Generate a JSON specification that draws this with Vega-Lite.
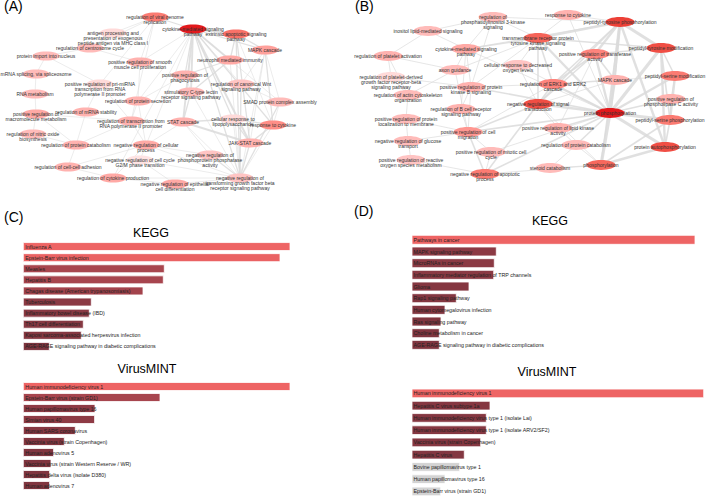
{
  "$schema": "https://vega.github.io/schema/vega-lite/v6.json",
  "background": "white",
  "padding": 0,
  "config": {"view": {"stroke": null}, "font": "Liberation Sans", "title": {"fontWeight": "normal", "color": "#000000", "font": "Liberation Sans"}},
  "datasets": {
    "nodesA": [
      {"id": "a1", "label": "regulation of viral genome\nreplication", "x": 152, "y": 10, "shade": 0.6},
      {"id": "a2", "label": "cytokine-mediated signaling\npathway", "x": 190, "y": 22, "shade": 1.0},
      {"id": "a3", "label": "antigen processing and\npresentation of exogenous\npeptide antigen via MHC class I", "x": 110, "y": 26, "shade": 0.08},
      {"id": "a4", "label": "extrinsic apoptotic signaling\npathway", "x": 233, "y": 27, "shade": 0.65},
      {"id": "a5", "label": "regulation of centrosome cycle", "x": 87, "y": 41, "shade": 0.25},
      {"id": "a6", "label": "protein import into nucleus", "x": 43, "y": 49, "shade": 0.25},
      {"id": "a7", "label": "MAPK cascade", "x": 262, "y": 43, "shade": 0.4},
      {"id": "a8", "label": "neutrophil mediated immunity", "x": 227, "y": 53, "shade": 0.35},
      {"id": "a9", "label": "positive regulation of smooth\nmuscle cell proliferation", "x": 137, "y": 55, "shade": 0.3},
      {"id": "a10", "label": "positive regulation of\nphagocytosis", "x": 182, "y": 68, "shade": 0.3},
      {"id": "a11", "label": "mRNA splicing, via spliceosome", "x": 33, "y": 67, "shade": 0.25},
      {"id": "a12", "label": "positive regulation of pri-miRNA\ntranscription from RNA\npolymerase II promoter", "x": 97, "y": 77, "shade": 0.08},
      {"id": "a13", "label": "regulation of canonical Wnt\nsignaling pathway", "x": 238, "y": 77, "shade": 0.2},
      {"id": "a14", "label": "stimulatory C-type lectin\nreceptor signaling pathway", "x": 188, "y": 85, "shade": 0.25},
      {"id": "a15", "label": "RNA metabolism", "x": 32, "y": 87, "shade": 0.25},
      {"id": "a16", "label": "SMAD protein complex assembly", "x": 277, "y": 95, "shade": 0.25},
      {"id": "a17", "label": "regulation of protein secretion", "x": 135, "y": 94, "shade": 0.3},
      {"id": "a18", "label": "positive regulation of\nmacromolecule metabolism", "x": 33, "y": 107, "shade": 0.35},
      {"id": "a19", "label": "regulation of mRNA stability", "x": 83, "y": 105, "shade": 0.3},
      {"id": "a20", "label": "regulation of transcription from\nRNA polymerase II promoter", "x": 128, "y": 114, "shade": 0.3},
      {"id": "a21", "label": "STAT cascade", "x": 180, "y": 115, "shade": 0.3},
      {"id": "a22", "label": "cellular response to\nlipopolysaccharide", "x": 230, "y": 112, "shade": 0.08},
      {"id": "a23", "label": "response to cytokine", "x": 270, "y": 118, "shade": 0.5},
      {"id": "a24", "label": "regulation of nitric oxide\nbiosynthesis", "x": 30, "y": 127, "shade": 0.25},
      {"id": "a25", "label": "regulation of protein catabolism", "x": 73, "y": 138, "shade": 0.3},
      {"id": "a26", "label": "negative regulation of cellular\nprocess", "x": 143, "y": 138, "shade": 0.35},
      {"id": "a27", "label": "JAK-STAT cascade", "x": 247, "y": 136, "shade": 0.3},
      {"id": "a28", "label": "negative regulation of\nphosphoprotein phosphatase\nactivity", "x": 207, "y": 148, "shade": 0.2},
      {"id": "a29", "label": "negative regulation of cell cycle\nG2/M phase transition", "x": 137, "y": 153, "shade": 0.03},
      {"id": "a30", "label": "regulation of cell-cell adhesion", "x": 65, "y": 160, "shade": 0.3},
      {"id": "a31", "label": "regulation of cytokine production", "x": 110, "y": 171, "shade": 0.35},
      {"id": "a32", "label": "negative regulation of epithelial\ncell differentiation", "x": 172, "y": 177, "shade": 0.35},
      {"id": "a33", "label": "negative regulation of\ntransforming growth factor beta\nreceptor signaling pathway", "x": 237, "y": 171, "shade": 0.2}
    ],
    "edgesA": [
      {"s": "a2", "t": "a1", "w": 2}, {"s": "a2", "t": "a4", "w": 3}, {"s": "a2", "t": "a7", "w": 2}, {"s": "a2", "t": "a8", "w": 3},
      {"s": "a2", "t": "a10", "w": 2}, {"s": "a2", "t": "a14", "w": 3}, {"s": "a2", "t": "a21", "w": 3}, {"s": "a2", "t": "a22", "w": 2},
      {"s": "a2", "t": "a23", "w": 2}, {"s": "a2", "t": "a27", "w": 3}, {"s": "a2", "t": "a13", "w": 1}, {"s": "a2", "t": "a16", "w": 1},
      {"s": "a2", "t": "a26", "w": 1}, {"s": "a2", "t": "a33", "w": 2}, {"s": "a2", "t": "a31", "w": 1}, {"s": "a2", "t": "a9", "w": 1},
      {"s": "a2", "t": "a17", "w": 1}, {"s": "a1", "t": "a3", "w": 1}, {"s": "a1", "t": "a9", "w": 1}, {"s": "a1", "t": "a20", "w": 1},
      {"s": "a1", "t": "a12", "w": 1}, {"s": "a1", "t": "a5", "w": 1}, {"s": "a4", "t": "a8", "w": 2}, {"s": "a4", "t": "a7", "w": 2},
      {"s": "a4", "t": "a27", "w": 2}, {"s": "a4", "t": "a33", "w": 2}, {"s": "a4", "t": "a23", "w": 1}, {"s": "a7", "t": "a16", "w": 1},
      {"s": "a7", "t": "a23", "w": 2}, {"s": "a7", "t": "a27", "w": 1}, {"s": "a7", "t": "a33", "w": 1}, {"s": "a7", "t": "a13", "w": 1},
      {"s": "a8", "t": "a10", "w": 2}, {"s": "a8", "t": "a14", "w": 2}, {"s": "a8", "t": "a33", "w": 1}, {"s": "a13", "t": "a16", "w": 1},
      {"s": "a13", "t": "a33", "w": 2}, {"s": "a16", "t": "a33", "w": 2}, {"s": "a16", "t": "a23", "w": 1}, {"s": "a21", "t": "a27", "w": 3},
      {"s": "a21", "t": "a22", "w": 2}, {"s": "a21", "t": "a33", "w": 1}, {"s": "a21", "t": "a14", "w": 2}, {"s": "a21", "t": "a26", "w": 1},
      {"s": "a21", "t": "a28", "w": 1}, {"s": "a22", "t": "a23", "w": 2}, {"s": "a22", "t": "a33", "w": 1}, {"s": "a22", "t": "a27", "w": 2},
      {"s": "a23", "t": "a27", "w": 2}, {"s": "a23", "t": "a33", "w": 1}, {"s": "a27", "t": "a33", "w": 2}, {"s": "a28", "t": "a33", "w": 2},
      {"s": "a28", "t": "a26", "w": 1}, {"s": "a32", "t": "a33", "w": 1}, {"s": "a29", "t": "a32", "w": 1}, {"s": "a29", "t": "a33", "w": 1},
      {"s": "a31", "t": "a32", "w": 1}, {"s": "a31", "t": "a26", "w": 1}, {"s": "a26", "t": "a30", "w": 1}, {"s": "a26", "t": "a20", "w": 1},
      {"s": "a26", "t": "a17", "w": 1}, {"s": "a26", "t": "a29", "w": 1}, {"s": "a20", "t": "a25", "w": 1}, {"s": "a20", "t": "a17", "w": 1},
      {"s": "a19", "t": "a25", "w": 1}, {"s": "a12", "t": "a19", "w": 1}, {"s": "a12", "t": "a20", "w": 1}, {"s": "a18", "t": "a20", "w": 1},
      {"s": "a18", "t": "a25", "w": 1}, {"s": "a24", "t": "a25", "w": 1}, {"s": "a6", "t": "a11", "w": 1}, {"s": "a11", "t": "a15", "w": 1},
      {"s": "a15", "t": "a18", "w": 1}, {"s": "a18", "t": "a24", "w": 1}, {"s": "a5", "t": "a9", "w": 1}, {"s": "a5", "t": "a6", "w": 1},
      {"s": "a6", "t": "a12", "w": 1}, {"s": "a30", "t": "a31", "w": 1}, {"s": "a25", "t": "a30", "w": 1}, {"s": "a10", "t": "a14", "w": 1},
      {"s": "a10", "t": "a17", "w": 1}, {"s": "a14", "t": "a33", "w": 1}, {"s": "a9", "t": "a17", "w": 1}, {"s": "a3", "t": "a5", "w": 1},
      {"s": "a31", "t": "a33", "w": 1}, {"s": "a26", "t": "a33", "w": 1}
    ],
    "nodesB": [
      {"id": "b1", "label": "regulation of\nphosphatidylinositol 3-kinase\nsignaling", "x": 139, "y": 10, "shade": 0.25},
      {"id": "b2", "label": "inositol lipid-mediated signaling", "x": 74, "y": 24, "shade": 0.25},
      {"id": "b3", "label": "transmembrane receptor protein\ntyrosine kinase signaling\npathway", "x": 184, "y": 31, "shade": 0.72},
      {"id": "b4", "label": "response to cytokine", "x": 214, "y": 8, "shade": 0.3},
      {"id": "b5", "label": "peptidyl-tyrosine phosphorylation", "x": 266, "y": 15, "shade": 0.88},
      {"id": "b6", "label": "regulation of platelet activation", "x": 34, "y": 49, "shade": 0.3},
      {"id": "b7", "label": "cytokine-mediated signaling\npathway", "x": 112, "y": 42, "shade": 0.35},
      {"id": "b8", "label": "positive regulation of transferase\nactivity", "x": 241, "y": 47, "shade": 0.55},
      {"id": "b9", "label": "peptidyl-tyrosine modification", "x": 307, "y": 41, "shade": 0.82},
      {"id": "b10", "label": "cellular response to decreased\noxygen levels", "x": 164, "y": 58, "shade": 0.2},
      {"id": "b11", "label": "axon guidance", "x": 101, "y": 63, "shade": 0.25},
      {"id": "b12", "label": "regulation of platelet-derived\ngrowth factor receptor-beta\nsignaling pathway", "x": 37, "y": 70, "shade": 0.08},
      {"id": "b13", "label": "regulation of ERK1 and ERK2\ncascade", "x": 199, "y": 77, "shade": 0.55},
      {"id": "b14", "label": "MAPK cascade", "x": 261, "y": 73, "shade": 0.3},
      {"id": "b15", "label": "peptidyl-serine modification", "x": 321, "y": 69, "shade": 0.6},
      {"id": "b16", "label": "positive regulation of protein\nkinase B signaling", "x": 117, "y": 80, "shade": 0.3},
      {"id": "b17", "label": "regulation of actin cytoskeleton\norganization", "x": 54, "y": 88, "shade": 0.25},
      {"id": "b18", "label": "negative regulation of signal\ntransduction", "x": 184, "y": 97, "shade": 0.82},
      {"id": "b19", "label": "positive regulation of\nphospholipase C activity", "x": 317, "y": 92, "shade": 0.3},
      {"id": "b20", "label": "regulation of B cell receptor\nsignaling pathway", "x": 107, "y": 102, "shade": 0.3},
      {"id": "b21", "label": "positive regulation of protein\nlocalization to membrane", "x": 52, "y": 112, "shade": 0.25},
      {"id": "b22", "label": "protein phosphorylation", "x": 256, "y": 106, "shade": 1.0},
      {"id": "b23", "label": "peptidyl-serine phosphorylation", "x": 316, "y": 113, "shade": 0.6},
      {"id": "b24", "label": "positive regulation of cell\nmigration", "x": 114, "y": 125, "shade": 0.45},
      {"id": "b25", "label": "positive regulation of lipid kinase\nactivity", "x": 204, "y": 121, "shade": 0.3},
      {"id": "b26", "label": "negative regulation of glucose\ntransport", "x": 54, "y": 134, "shade": 0.25},
      {"id": "b27", "label": "positive regulation of mitotic cell\ncycle", "x": 137, "y": 145, "shade": 0.25},
      {"id": "b28", "label": "regulation of protein catabolism", "x": 222, "y": 138, "shade": 0.25},
      {"id": "b29", "label": "protein autophosphorylation", "x": 311, "y": 140, "shade": 0.82},
      {"id": "b30", "label": "positive regulation of reactive\noxygen species metabolism", "x": 57, "y": 153, "shade": 0.2},
      {"id": "b31", "label": "steroid catabolism", "x": 196, "y": 161, "shade": 0.25},
      {"id": "b32", "label": "phosphorylation", "x": 247, "y": 158, "shade": 0.7},
      {"id": "b33", "label": "negative regulation of apoptotic\nprocess", "x": 131, "y": 167, "shade": 0.6}
    ],
    "edgesB": [
      {"s": "b22", "t": "b5", "w": 4}, {"s": "b22", "t": "b9", "w": 4}, {"s": "b22", "t": "b8", "w": 3}, {"s": "b22", "t": "b14", "w": 3},
      {"s": "b22", "t": "b13", "w": 3}, {"s": "b22", "t": "b18", "w": 3}, {"s": "b22", "t": "b23", "w": 4}, {"s": "b22", "t": "b29", "w": 4},
      {"s": "b22", "t": "b32", "w": 4}, {"s": "b22", "t": "b15", "w": 3}, {"s": "b22", "t": "b19", "w": 2}, {"s": "b22", "t": "b25", "w": 2},
      {"s": "b22", "t": "b28", "w": 2}, {"s": "b22", "t": "b24", "w": 2}, {"s": "b22", "t": "b33", "w": 2}, {"s": "b22", "t": "b3", "w": 3},
      {"s": "b22", "t": "b16", "w": 2}, {"s": "b22", "t": "b10", "w": 1}, {"s": "b22", "t": "b27", "w": 1}, {"s": "b22", "t": "b7", "w": 1},
      {"s": "b22", "t": "b4", "w": 1}, {"s": "b5", "t": "b9", "w": 4}, {"s": "b5", "t": "b3", "w": 3}, {"s": "b5", "t": "b8", "w": 3},
      {"s": "b5", "t": "b14", "w": 2}, {"s": "b5", "t": "b13", "w": 2}, {"s": "b5", "t": "b29", "w": 3}, {"s": "b5", "t": "b4", "w": 1},
      {"s": "b5", "t": "b18", "w": 2}, {"s": "b5", "t": "b7", "w": 1}, {"s": "b5", "t": "b1", "w": 1}, {"s": "b5", "t": "b32", "w": 2},
      {"s": "b9", "t": "b29", "w": 3}, {"s": "b9", "t": "b15", "w": 2}, {"s": "b9", "t": "b8", "w": 2}, {"s": "b9", "t": "b23", "w": 2},
      {"s": "b9", "t": "b3", "w": 2}, {"s": "b15", "t": "b23", "w": 3}, {"s": "b15", "t": "b19", "w": 1}, {"s": "b15", "t": "b14", "w": 1},
      {"s": "b23", "t": "b29", "w": 2}, {"s": "b23", "t": "b19", "w": 1}, {"s": "b23", "t": "b32", "w": 2}, {"s": "b29", "t": "b32", "w": 3},
      {"s": "b8", "t": "b13", "w": 2}, {"s": "b8", "t": "b14", "w": 2}, {"s": "b8", "t": "b18", "w": 2}, {"s": "b8", "t": "b25", "w": 1},
      {"s": "b13", "t": "b14", "w": 2}, {"s": "b13", "t": "b18", "w": 2}, {"s": "b13", "t": "b3", "w": 2}, {"s": "b13", "t": "b16", "w": 1},
      {"s": "b13", "t": "b24", "w": 1}, {"s": "b14", "t": "b18", "w": 1}, {"s": "b18", "t": "b33", "w": 2}, {"s": "b18", "t": "b24", "w": 2},
      {"s": "b18", "t": "b10", "w": 1}, {"s": "b18", "t": "b3", "w": 2}, {"s": "b18", "t": "b25", "w": 1}, {"s": "b18", "t": "b32", "w": 1},
      {"s": "b3", "t": "b7", "w": 2}, {"s": "b3", "t": "b1", "w": 1}, {"s": "b3", "t": "b16", "w": 1}, {"s": "b3", "t": "b11", "w": 1},
      {"s": "b3", "t": "b10", "w": 1}, {"s": "b1", "t": "b2", "w": 1}, {"s": "b1", "t": "b16", "w": 1}, {"s": "b1", "t": "b7", "w": 1},
      {"s": "b2", "t": "b6", "w": 1}, {"s": "b2", "t": "b7", "w": 1}, {"s": "b6", "t": "b12", "w": 1}, {"s": "b6", "t": "b17", "w": 1},
      {"s": "b12", "t": "b17", "w": 1}, {"s": "b12", "t": "b16", "w": 1}, {"s": "b17", "t": "b21", "w": 1}, {"s": "b21", "t": "b26", "w": 1},
      {"s": "b26", "t": "b30", "w": 1}, {"s": "b30", "t": "b33", "w": 1}, {"s": "b24", "t": "b33", "w": 2}, {"s": "b27", "t": "b33", "w": 1},
      {"s": "b24", "t": "b16", "w": 1}, {"s": "b20", "t": "b16", "w": 1}, {"s": "b20", "t": "b7", "w": 1}, {"s": "b11", "t": "b7", "w": 1},
      {"s": "b11", "t": "b24", "w": 1}, {"s": "b11", "t": "b17", "w": 1}, {"s": "b24", "t": "b27", "w": 1}, {"s": "b31", "t": "b28", "w": 1},
      {"s": "b31", "t": "b32", "w": 1}, {"s": "b28", "t": "b32", "w": 1}, {"s": "b32", "t": "b33", "w": 1}, {"s": "b25", "t": "b28", "w": 1},
      {"s": "b16", "t": "b7", "w": 1}, {"s": "b20", "t": "b24", "w": 1}, {"s": "b21", "t": "b24", "w": 1}, {"s": "b6", "t": "b11", "w": 1},
      {"s": "b4", "t": "b3", "w": 1}, {"s": "b26", "t": "b24", "w": 1}
    ],
    "keggC": [
      {"term": "Influenza A", "score": 266.7, "shade": 1.0, "significant": true},
      {"term": "Epstein-Barr virus infection", "score": 256.7, "shade": 0.97, "significant": true},
      {"term": "Measles", "score": 141, "shade": 0.41, "significant": true},
      {"term": "Hepatitis B", "score": 140, "shade": 0.4, "significant": true},
      {"term": "Chagas disease (American trypanosomiasis)", "score": 119.7, "shade": 0.36, "significant": true},
      {"term": "Tuberculosis", "score": 68, "shade": 0.15, "significant": true},
      {"term": "Inflammatory bowel disease (IBD)", "score": 66, "shade": 0.13, "significant": true},
      {"term": "Th17 cell differentiation", "score": 60, "shade": 0.11, "significant": true},
      {"term": "Kaposi sarcoma-associated herpesvirus infection", "score": 58, "shade": 0.1, "significant": true},
      {"term": "AGE-RAGE signaling pathway in diabetic complications", "score": 26, "shade": 0.02, "significant": true}
    ],
    "virusC": [
      {"term": "Human immunodeficiency virus 1", "score": 266.7, "shade": 1.0, "significant": true},
      {"term": "Epstein-Barr virus (strain GD1)", "score": 136.7, "shade": 0.4, "significant": true},
      {"term": "Human papillomavirus type 16", "score": 71.7, "shade": 0.18, "significant": true},
      {"term": "Simian virus 40", "score": 71.3, "shade": 0.18, "significant": true},
      {"term": "Human SARS coronavirus", "score": 52, "shade": 0.12, "significant": true},
      {"term": "Vaccinia virus (strain Copenhagen)", "score": 41, "shade": 0.1, "significant": true},
      {"term": "Human adenovirus 5", "score": 30.3, "shade": 0.06, "significant": true},
      {"term": "Vaccinia virus (strain Western Reserve / WR)", "score": 27.7, "shade": 0.05, "significant": true},
      {"term": "Hepatitis delta virus (isolate D380)", "score": 26.3, "shade": 0.05, "significant": true},
      {"term": "Human adenovirus 7", "score": 26.3, "shade": 0.05, "significant": true}
    ],
    "keggD": [
      {"term": "Pathways in cancer", "score": 283, "shade": 1.0, "significant": true},
      {"term": "MAPK signaling pathway", "score": 84.3, "shade": 0.16, "significant": true},
      {"term": "MicroRNAs in cancer", "score": 82.3, "shade": 0.15, "significant": true},
      {"term": "Inflammatory mediator regulation of TRP channels", "score": 81.7, "shade": 0.14, "significant": true},
      {"term": "Glioma", "score": 57, "shade": 0.1, "significant": true},
      {"term": "Rap1 signaling pathway", "score": 44.3, "shade": 0.08, "significant": true},
      {"term": "Human cytomegalovirus infection", "score": 33, "shade": 0.06, "significant": true},
      {"term": "Ras signaling pathway", "score": 29, "shade": 0.05, "significant": true},
      {"term": "Choline metabolism in cancer", "score": 27.3, "shade": 0.05, "significant": true},
      {"term": "AGE-RAGE signaling pathway in diabetic complications", "score": 27.3, "shade": 0.05, "significant": true}
    ],
    "virusD": [
      {"term": "Human immunodeficiency virus 1", "score": 291.7, "shade": 1.0, "significant": true},
      {"term": "Hepatitis C virus subtype 1a", "score": 78, "shade": 0.1, "significant": true},
      {"term": "Human immunodeficiency virus type 1 (isolate Lai)", "score": 74.3, "shade": 0.1, "significant": true},
      {"term": "Human immunodeficiency virus type 1 (isolate ARV2/SF2)", "score": 74.3, "shade": 0.1, "significant": true},
      {"term": "Vaccinia virus (strain Copenhagen)", "score": 68.7, "shade": 0.1, "significant": true},
      {"term": "Hepatitis C virus", "score": 52.3, "shade": 0.08, "significant": true},
      {"term": "Bovine papillomavirus type 1", "score": 47.7, "shade": 0, "significant": false},
      {"term": "Human papillomavirus type 16", "score": 33, "shade": 0, "significant": false},
      {"term": "Epstein-Barr virus (strain GD1)", "score": 28.7, "shade": 0, "significant": false}
    ]
  },
  "hconcat": [
    {
      "spacing": 8,
      "resolve": {"scale": {"x": "independent", "y": "independent", "color": "independent", "strokeWidth": "independent"}},
      "vconcat": [
        {
          "width": 350, "height": 195,
          "title": {"text": "(A)", "anchor": "start", "frame": "group", "fontSize": 14, "baseline": "bottom", "offset": -21, "dx": 1},
          "layer": [
            {
              "data": {"name": "edgesA"},
              "transform": [
                {"lookup": "s", "from": {"data": {"name": "nodesA"}, "key": "id", "fields": ["x", "y"]}, "as": ["x1", "y1"]},
                {"lookup": "t", "from": {"data": {"name": "nodesA"}, "key": "id", "fields": ["x", "y"]}, "as": ["x2", "y2"]}
              ],
              "mark": {"type": "rule", "color": "#dadada", "opacity": 0.85},
              "encoding": {
                "x": {"field": "x1", "type": "quantitative", "scale": {"domain": [0, 350], "nice": false, "zero": false}, "axis": null},
                "y": {"field": "y1", "type": "quantitative", "scale": {"domain": [0, 195], "nice": false, "zero": false, "reverse": true}, "axis": null},
                "x2": {"field": "x2"}, "y2": {"field": "y2"},
                "strokeWidth": {"field": "w", "type": "quantitative", "scale": {"domain": [1, 4], "range": [0.6, 2.6]}, "legend": null}
              }
            },
            {
              "data": {"name": "nodesA"},
              "mark": {"type": "point", "shape": "M -1 0 C -1 -0.1878 -0.5523 -0.34 0 -0.34 C 0.5523 -0.34 1 -0.1878 1 0 C 1 0.1878 0.5523 0.34 0 0.34 C -0.5523 0.34 -1 0.1878 -1 0 Z", "filled": true, "size": 729, "opacity": 1},
              "encoding": {
                "x": {"field": "x", "type": "quantitative"},
                "y": {"field": "y", "type": "quantitative"},
                "color": {"field": "shade", "type": "quantitative", "scale": {"domain": [0, 1], "range": ["#fde8e8", "#e3191c"]}, "legend": null}
              }
            },
            {
              "data": {"name": "nodesA"},
              "mark": {"type": "text", "fontSize": 5, "lineBreak": "\n", "lineHeight": 5.2, "color": "#333333", "font": "Liberation Sans"},
              "encoding": {
                "x": {"field": "x", "type": "quantitative"},
                "y": {"field": "y", "type": "quantitative"},
                "text": {"field": "label"}
              }
            }
          ]
        },
        {
          "title": {"text": "(C)", "anchor": "start", "frame": "group", "fontSize": 14, "offset": 2.5, "dx": 1},
          "spacing": 11,
          "resolve": {"scale": {"x": "independent", "y": "independent", "color": "independent"}},
          "vconcat": [
            {
              "data": {"name": "keggC"},
              "width": 287, "height": 111,
              "title": {"text": "KEGG", "anchor": "middle", "frame": "group", "fontSize": 12.5, "offset": 1.5, "dx": 4.5},
              "encoding": {
                "y": {"field": "term", "type": "nominal", "sort": null, "scale": {"paddingInner": 0.28, "paddingOuter": 0.14}, "axis": null}
              },
              "layer": [
                {
                  "mark": {"type": "bar", "stroke": "#ffffff", "strokeWidth": 0.8},
                  "encoding": {
                    "x": {"field": "score", "type": "quantitative", "scale": {"domain": [-20.3, 266.7], "nice": false, "zero": false}, "axis": null},
                    "x2": {"datum": 0},
                    "color": {"condition": {"test": "!datum.significant", "value": "#d3d3d3"}, "field": "shade", "type": "quantitative", "scale": {"domain": [0, 1], "range": ["#7a333d", "#ee6464"]}, "legend": null}
                  }
                },
                {
                  "mark": {"type": "text", "align": "left", "dx": 2, "fontSize": 5.3, "color": "#222222", "font": "Liberation Sans"},
                  "encoding": {"x": {"datum": 0, "type": "quantitative"}, "text": {"field": "term"}}
                }
              ]
            },
            {
              "data": {"name": "virusC"},
              "width": 287, "height": 110,
              "title": {"text": "VirusMINT", "anchor": "middle", "frame": "group", "fontSize": 12.5, "offset": 5.3, "dx": 0.5},
              "encoding": {
                "y": {"field": "term", "type": "nominal", "sort": null, "scale": {"paddingInner": 0.27, "paddingOuter": 0.135}, "axis": null}
              },
              "layer": [
                {
                  "mark": {"type": "bar", "stroke": "#ffffff", "strokeWidth": 0.8},
                  "encoding": {
                    "x": {"field": "score", "type": "quantitative", "scale": {"domain": [-20.3, 266.7], "nice": false, "zero": false}, "axis": null},
                    "x2": {"datum": 0},
                    "color": {"condition": {"test": "!datum.significant", "value": "#d3d3d3"}, "field": "shade", "type": "quantitative", "scale": {"domain": [0, 1], "range": ["#7a333d", "#ee6464"]}, "legend": null}
                  }
                },
                {
                  "mark": {"type": "text", "align": "left", "dx": 2, "fontSize": 5.3, "color": "#222222", "font": "Liberation Sans"},
                  "encoding": {"x": {"datum": 0, "type": "quantitative"}, "text": {"field": "term"}}
                }
              ]
            }
          ]
        }
      ]
    },
    {
      "spacing": 13,
      "resolve": {"scale": {"x": "independent", "y": "independent", "color": "independent", "strokeWidth": "independent"}},
      "vconcat": [
        {
          "width": 358, "height": 185,
          "title": {"text": "(B)", "anchor": "start", "frame": "group", "fontSize": 14, "baseline": "bottom", "offset": -21, "dx": 1},
          "layer": [
            {
              "data": {"name": "edgesB"},
              "transform": [
                {"lookup": "s", "from": {"data": {"name": "nodesB"}, "key": "id", "fields": ["x", "y"]}, "as": ["x1", "y1"]},
                {"lookup": "t", "from": {"data": {"name": "nodesB"}, "key": "id", "fields": ["x", "y"]}, "as": ["x2", "y2"]}
              ],
              "mark": {"type": "rule", "color": "#dadada", "opacity": 0.85},
              "encoding": {
                "x": {"field": "x1", "type": "quantitative", "scale": {"domain": [0, 358], "nice": false, "zero": false}, "axis": null},
                "y": {"field": "y1", "type": "quantitative", "scale": {"domain": [0, 185], "nice": false, "zero": false, "reverse": true}, "axis": null},
                "x2": {"field": "x2"}, "y2": {"field": "y2"},
                "strokeWidth": {"field": "w", "type": "quantitative", "scale": {"domain": [1, 4], "range": [0.8, 3.2]}, "legend": null}
              }
            },
            {
              "data": {"name": "nodesB"},
              "mark": {"type": "point", "shape": "M -1 0 C -1 -0.1878 -0.5523 -0.34 0 -0.34 C 0.5523 -0.34 1 -0.1878 1 0 C 1 0.1878 0.5523 0.34 0 0.34 C -0.5523 0.34 -1 0.1878 -1 0 Z", "filled": true, "size": 841, "opacity": 1},
              "encoding": {
                "x": {"field": "x", "type": "quantitative"},
                "y": {"field": "y", "type": "quantitative"},
                "color": {"field": "shade", "type": "quantitative", "scale": {"domain": [0, 1], "range": ["#fde8e8", "#e3191c"]}, "legend": null}
              }
            },
            {
              "data": {"name": "nodesB"},
              "mark": {"type": "text", "fontSize": 5, "lineBreak": "\n", "lineHeight": 5.2, "color": "#333333", "font": "Liberation Sans"},
              "encoding": {
                "x": {"field": "x", "type": "quantitative"},
                "y": {"field": "y", "type": "quantitative"},
                "text": {"field": "label"}
              }
            }
          ]
        },
        {
          "title": {"text": "(D)", "anchor": "start", "frame": "group", "fontSize": 14, "offset": -4.3, "dx": 0},
          "spacing": 14.3,
          "resolve": {"scale": {"x": "independent", "y": "independent", "color": "independent"}},
          "vconcat": [
            {
              "data": {"name": "keggD"},
              "width": 350, "height": 116.7,
              "title": {"text": "KEGG", "anchor": "middle", "frame": "group", "fontSize": 12.5, "offset": 6.5, "dx": 21},
              "encoding": {
                "y": {"field": "term", "type": "nominal", "sort": null, "scale": {"paddingInner": 0.23, "paddingOuter": 0.115}, "axis": null}
              },
              "layer": [
                {
                  "mark": {"type": "bar", "stroke": "#ffffff", "strokeWidth": 0.8},
                  "encoding": {
                    "x": {"field": "score", "type": "quantitative", "scale": {"domain": [-58, 292], "nice": false, "zero": false}, "axis": null},
                    "x2": {"datum": 0},
                    "color": {"condition": {"test": "!datum.significant", "value": "#d3d3d3"}, "field": "shade", "type": "quantitative", "scale": {"domain": [0, 1], "range": ["#7a333d", "#ee6464"]}, "legend": null}
                  }
                },
                {
                  "mark": {"type": "text", "align": "left", "dx": 1.5, "fontSize": 5.3, "color": "#222222", "font": "Liberation Sans"},
                  "encoding": {"x": {"datum": 0, "type": "quantitative"}, "text": {"field": "term"}}
                }
              ]
            },
            {
              "data": {"name": "virusD"},
              "width": 350, "height": 110.25,
              "title": {"text": "VirusMINT", "anchor": "middle", "frame": "group", "fontSize": 12.5, "offset": 9.3, "dx": 18},
              "encoding": {
                "y": {"field": "term", "type": "nominal", "sort": null, "scale": {"paddingInner": 0.29, "paddingOuter": 0.145}, "axis": null}
              },
              "layer": [
                {
                  "mark": {"type": "bar", "stroke": "#ffffff", "strokeWidth": 0.8},
                  "encoding": {
                    "x": {"field": "score", "type": "quantitative", "scale": {"domain": [-58, 292], "nice": false, "zero": false}, "axis": null},
                    "x2": {"datum": 0},
                    "color": {"condition": {"test": "!datum.significant", "value": "#d3d3d3"}, "field": "shade", "type": "quantitative", "scale": {"domain": [0, 1], "range": ["#7a333d", "#ee6464"]}, "legend": null}
                  }
                },
                {
                  "mark": {"type": "text", "align": "left", "dx": 1.5, "fontSize": 5.3, "color": "#222222", "font": "Liberation Sans"},
                  "encoding": {"x": {"datum": 0, "type": "quantitative"}, "text": {"field": "term"}}
                }
              ]
            }
          ]
        }
      ]
    }
  ],
  "spacing": 1,
  "resolve": {"scale": {"x": "independent", "y": "independent", "color": "independent", "strokeWidth": "independent"}}
}
